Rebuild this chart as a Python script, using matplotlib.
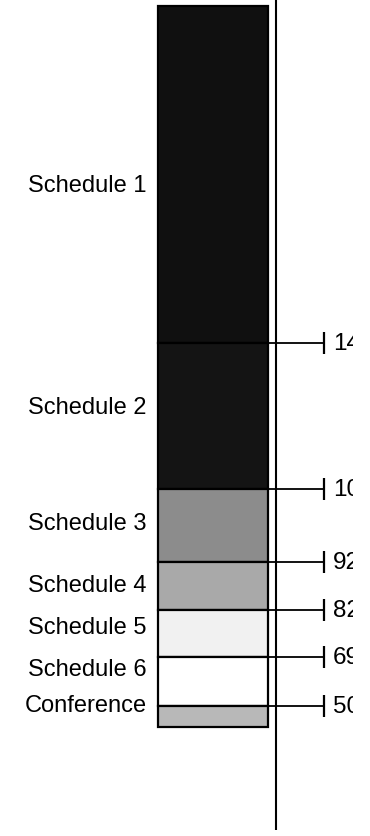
# Stacked schedule bar with boundary ticks
import matplotlib
matplotlib.use("Agg")
import matplotlib.pyplot as plt
import numpy as np

plt.rcParams['font.family'] = ['Liberation Sans', 'DejaVu Sans']

# data
segments = ["Schedule 1", "Schedule 2", "Schedule 3", "Schedule 4",
            "Schedule 5", "Schedule 6", "Conference"]
heights = [337, 146, 73, 48, 47, 49, 21]
colors = ["#101010", "#141414", "#8c8c8c", "#a9a9a9", "#f1f1f1", "#ffffff", "#b8b8b8"]
tick_labels = ["14", "10", "92", "82", "69", "50"]
label_nudge = [12, -8, -2, 0, -6, -11, -11]

# layout (pixel-like units, y grows downward)
top = 6
bar_x, bar_w = 213, 110
axis_x = 276
tick_x = 324
text_x = 147
tlabel_x = 333

fig = plt.figure(figsize=(3.70, 8.36), dpi=100)
ax = fig.add_axes([0, 0, 353 / 370, 1])
ax.set_xlim(0, 353)
ax.set_ylim(836, 0)
ax.axis('off')

bottoms = top + np.concatenate([[0], np.cumsum(heights)[:-1]])
ax.bar(bar_x, heights, bottom=bottoms, width=bar_w, color=colors,
       edgecolor="black", linewidth=1.6, align="center")

# vertical axis line
ax.vlines(axis_x, 0, 830, color="black", linewidth=1.5)

# segment labels on the left
for name, b, h, dy in zip(segments, bottoms, heights, label_nudge):
    ax.text(text_x, b + h / 2 + dy, name, ha="right", va="center", fontsize=17)

# boundary lines with tick marks and values
bounds = top + np.cumsum(heights)[:-1]
for yb, lab in zip(bounds, tick_labels):
    ax.hlines(yb, bar_x + bar_w / 2, tick_x, color="black", linewidth=1.3)
    ax.vlines(tick_x, yb - 11, yb + 11, color="black", linewidth=1.6)
    ax.text(tlabel_x, yb + 1, lab, ha="left", va="center", fontsize=17.5,
            clip_on=True)

fig.savefig("out.png", dpi=100, facecolor="white")
